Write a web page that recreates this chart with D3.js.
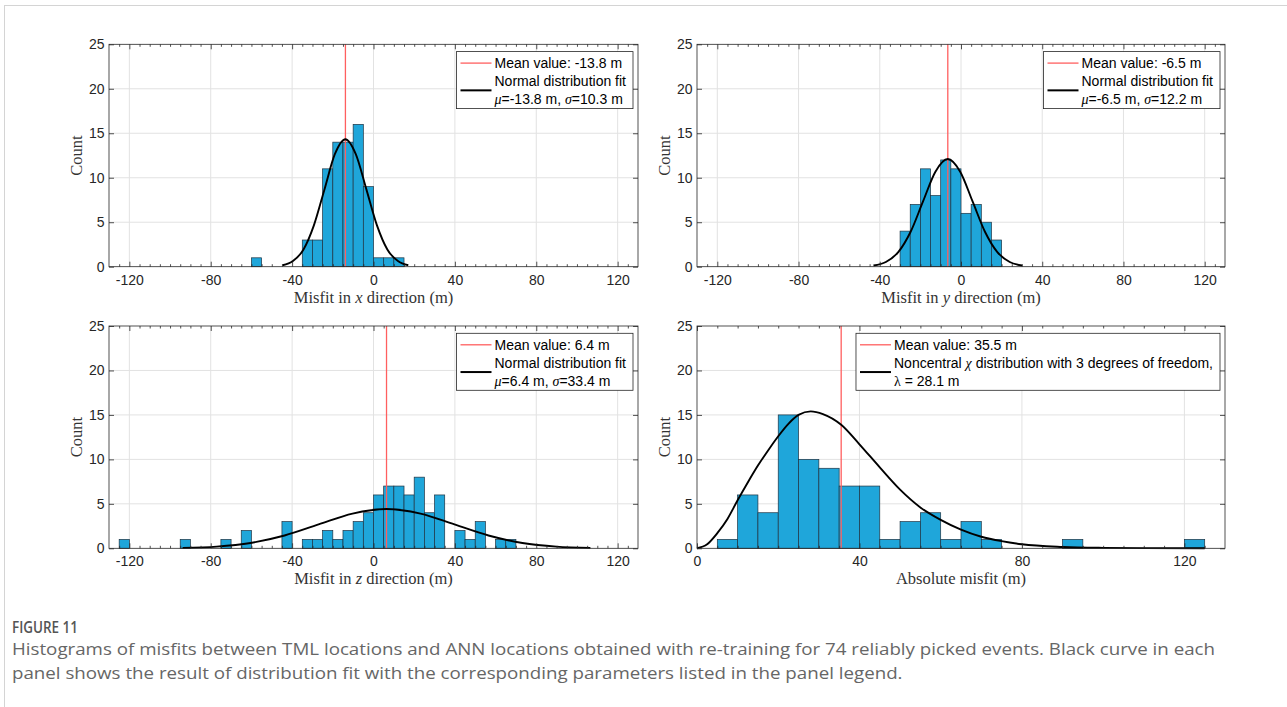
<!DOCTYPE html>
<html>
<head>
<meta charset="utf-8">
<script src="https://cdn.jsdelivr.net/npm/d3@7"></script>
<style>
  body { margin: 0; background: #fff; }
  svg { display: block; }
</style>
</head>
<body>
<svg id="fig" width="1287" height="707"></svg>
<script>
// histogram data: left edge of each non-empty 5 m bin and its count
const binWidth = 5;
const xBinLeft = [-60, -35, -30, -25, -20, -15, -10, -5, 0, 5, 10];
const xCounts = [1, 3, 3, 11, 14, 14, 16, 9, 1, 1, 1];
const yBinLeft = [-30, -25, -20, -15, -10, -5, 0, 5, 10, 15];
const yCounts = [4, 7, 11, 8, 12, 11, 6, 7, 5, 3];
const zBinLeft = [-125, -95, -75, -65, -45, -35, -30, -25, -20, -15, -10, -5, 0, 5, 10, 15, 20, 25, 30, 40, 45, 50, 60, 65];
const zCounts = [1, 1, 1, 2, 3, 1, 1, 2, 1, 2, 3, 4, 6, 7, 7, 6, 8, 4, 6, 2, 1, 3, 1, 1];
const absBinLeft = [5, 10, 15, 20, 25, 30, 35, 40, 45, 50, 55, 60, 65, 70, 90, 120];
const absCounts = [1, 6, 4, 15, 10, 9, 7, 7, 1, 3, 4, 1, 3, 1, 1, 1];

// fitted curves (count scale)
const xFitX = [-44.7, -39.6, -34.4, -29.3, -24.1, -19.0, -13.8, -8.7, -3.5, 1.7, 6.8, 12.0, 17.1];
const xFitY = [0.16, 0.63, 1.94, 4.65, 8.69, 12.65, 14.33, 12.65, 8.69, 4.65, 1.94, 0.63, 0.16];
const yFitX = [-43.1, -37.0, -30.9, -24.8, -18.7, -12.6, -6.5, -0.4, 5.7, 11.8, 17.9, 24.0, 30.1];
const yFitY = [0.13, 0.53, 1.64, 3.93, 7.34, 10.68, 12.10, 10.68, 7.34, 3.93, 1.64, 0.53, 0.13];
const zFitX = [-93.8, -77.1, -60.4, -43.7, -27.0, -10.3, 6.4, 23.1, 39.8, 56.5, 73.2, 89.9, 106.6];
const zFitY = [0.05, 0.19, 0.60, 1.44, 2.68, 3.90, 4.42, 3.90, 2.68, 1.44, 0.60, 0.19, 0.05];
const absFitX = [0, 2.5, 5, 7.5, 10, 12.5, 15, 17.5, 20, 22.5, 25, 28, 31, 35.5, 40, 45, 50, 55, 60, 65, 70, 75, 80, 90, 100, 110, 125];
const absFitY = [0, 0.45, 1.7, 3.3, 5.4, 7.4, 9.3, 11.0, 12.6, 14.0, 15.0, 15.4, 15.1, 13.9, 11.7, 9.1, 6.6, 4.6, 3.2, 2.1, 1.3, 0.8, 0.45, 0.15, 0.05, 0.02, 0];

const meanValues = [-13.8, -6.5, 6.4, 35.5];

const misfitTicks = [-120, -80, -40, 0, 40, 80, 120];
const absTicks = [0, 40, 80, 120];
const countTicks = [0, 5, 10, 15, 20, 25];

const captionTitle = "FIGURE 11";
const captionLines = [
  "Histograms of misfits between TML locations and ANN locations obtained with re-training for 74 reliably picked events. Black curve in each",
  "panel shows the result of distribution fit with the corresponding parameters listed in the panel legend.",
];

const sans = "'Liberation Sans', Arial, Helvetica, sans-serif";
const serif = "'Liberation Serif', 'Times New Roman', serif";
const barFill = "#1fa6da";
const axisColor = "#262626";
const meanColor = "#ff5f5f";

const svg = d3.select("#fig");

// page frame
svg.append("line").attr("x1", 4.5).attr("x2", 4.5).attr("y1", 5).attr("y2", 707).attr("stroke", "#d4d4d4");
svg.append("line").attr("x1", 4).attr("x2", 1287).attr("y1", 5.5).attr("y2", 5.5).attr("stroke", "#d4d4d4");

const panels = [
  {
    box: [109, 44.3, 638, 266.7], domain: [-130, 130], ticks: misfitTicks,
    bins: xBinLeft, counts: xCounts, fitX: xFitX, fitY: xFitY, mean: meanValues[0],
    xlabel: [["Misfit in "], ["x", "i"], [" direction (m)"]],
    legend: [[["Mean value: -13.8 m"]], [["Normal distribution fit"]], [["μ", "i"], ["=-13.8 m, "], ["σ", "i"], ["=10.3 m"]]],
  },
  {
    box: [697, 44.3, 1225, 266.7], domain: [-130, 130], ticks: misfitTicks,
    bins: yBinLeft, counts: yCounts, fitX: yFitX, fitY: yFitY, mean: meanValues[1],
    xlabel: [["Misfit in "], ["y", "i"], [" direction (m)"]],
    legend: [[["Mean value: -6.5 m"]], [["Normal distribution fit"]], [["μ", "i"], ["=-6.5 m, "], ["σ", "i"], ["=12.2 m"]]],
  },
  {
    box: [109, 326, 638, 548.3], domain: [-130, 130], ticks: misfitTicks,
    bins: zBinLeft, counts: zCounts, fitX: zFitX, fitY: zFitY, mean: meanValues[2],
    xlabel: [["Misfit in "], ["z", "i"], [" direction (m)"]],
    legend: [[["Mean value: 6.4 m"]], [["Normal distribution fit"]], [["μ", "i"], ["=6.4 m, "], ["σ", "i"], ["=33.4 m"]]],
  },
  {
    box: [697, 326, 1225, 548.3], domain: [0, 130], ticks: absTicks,
    bins: absBinLeft, counts: absCounts, fitX: absFitX, fitY: absFitY, mean: meanValues[3],
    xlabel: [["Absolute misfit (m)"]],
    legend: [[["Mean value: 35.5 m"]], [["Noncentral "], ["χ", "i"], [" distribution with 3 degrees of freedom,"]], [["λ", "s"], [" = 28.1 m"]]],
  },
];

function addRich(textSel, parts) {
  parts.forEach(([str, style]) => {
    const span = textSel.append("tspan").text(str);
    if (style === "i") span.attr("font-family", serif).attr("font-style", "italic");
    if (style === "s") span.attr("font-family", serif);
  });
}

function drawPanel(p) {
  const [l, t, r, b] = p.box;
  const x = d3.scaleLinear().domain(p.domain).range([l, r]);
  const y = d3.scaleLinear().domain([0, 25]).range([b, t]);
  const g = svg.append("g");

  // grid
  g.append("g").selectAll("line")
    .data(p.ticks.filter((v) => v > p.domain[0] && v < p.domain[1]))
    .join("line")
    .attr("x1", (v) => x(v)).attr("x2", (v) => x(v))
    .attr("y1", t).attr("y2", b)
    .attr("stroke", "#e2e2e2").attr("stroke-width", 1);
  g.append("g").selectAll("line")
    .data(countTicks.slice(1, -1))
    .join("line")
    .attr("x1", l).attr("x2", r)
    .attr("y1", (v) => y(v)).attr("y2", (v) => y(v))
    .attr("stroke", "#e2e2e2").attr("stroke-width", 1);

  // bars
  g.append("g").selectAll("rect")
    .data(p.bins.map((v, i) => ({ left: v, count: p.counts[i] })))
    .join("rect")
    .attr("x", (d) => x(d.left))
    .attr("width", (d) => x(d.left + binWidth) - x(d.left))
    .attr("y", (d) => y(d.count))
    .attr("height", (d) => y(0) - y(d.count))
    .attr("fill", barFill)
    .attr("stroke", "#1f3342")
    .attr("stroke-width", 0.7);

  // mean line
  g.append("line")
    .attr("x1", x(p.mean)).attr("x2", x(p.mean))
    .attr("y1", t).attr("y2", b)
    .attr("stroke", meanColor).attr("stroke-width", 1.3);

  // fit curve
  const line = d3.line().x((d) => x(d[0])).y((d) => y(d[1])).curve(d3.curveMonotoneX);
  g.append("path")
    .attr("d", line(p.fitX.map((v, i) => [v, p.fitY[i]])))
    .attr("fill", "none").attr("stroke", "#000").attr("stroke-width", 1.9);

  // axes (ticks inward, box on)
  const minor = d3.range(p.domain[0] + 5, p.domain[1], 5).filter((v) => !p.ticks.includes(v));
  const styleAxis = (sel) => {
    sel.select(".domain").remove();
    sel.selectAll("line").attr("stroke", axisColor).attr("stroke-width", 0.8);
    sel.selectAll("text").attr("fill", axisColor).attr("font-family", sans).attr("font-size", 14);
  };
  g.append("g").attr("transform", `translate(0,${b})`)
    .call(d3.axisBottom(x).tickValues(p.ticks).tickSize(-5).tickPadding(8).tickFormat((v) => String(v)))
    .call(styleAxis);
  g.append("g").attr("transform", `translate(0,${b})`)
    .call(d3.axisBottom(x).tickValues(minor).tickSize(-2.5).tickFormat(""))
    .call(styleAxis);
  g.append("g").attr("transform", `translate(0,${t})`)
    .call(d3.axisTop(x).tickValues(p.ticks).tickSize(-5).tickFormat(""))
    .call(styleAxis);
  g.append("g").attr("transform", `translate(0,${t})`)
    .call(d3.axisTop(x).tickValues(minor).tickSize(-2.5).tickFormat(""))
    .call(styleAxis);
  g.append("g").attr("transform", `translate(${l},0)`)
    .call(d3.axisLeft(y).tickValues(countTicks).tickSize(-5).tickPadding(4.5))
    .call(styleAxis);
  g.append("g").attr("transform", `translate(${r},0)`)
    .call(d3.axisRight(y).tickValues(countTicks).tickSize(-5).tickFormat(""))
    .call(styleAxis);
  g.append("rect")
    .attr("x", l).attr("y", t).attr("width", r - l).attr("height", b - t)
    .attr("fill", "none").attr("stroke", axisColor).attr("stroke-width", 0.8);

  // axis labels
  const xl = g.append("text")
    .attr("x", (l + r) / 2).attr("y", b + 36)
    .attr("text-anchor", "middle")
    .attr("font-family", serif).attr("font-size", 16.5).attr("fill", "#333");
  addRich(xl, p.xlabel);
  g.append("text")
    .attr("transform", `translate(${l - 27},${(t + b) / 2}) rotate(-90)`)
    .attr("text-anchor", "middle")
    .attr("font-family", serif).attr("font-size", 16.5).attr("fill", "#333")
    .text("Count");

  // legend
  const lg = g.append("g");
  const boxRect = lg.append("rect").attr("fill", "#fff").attr("stroke", axisColor).attr("stroke-width", 0.8);
  const rowY = [11.5, 30, 47.5];
  const texts = p.legend.map((parts, i) => {
    const tx = lg.append("text")
      .attr("y", rowY[i]).attr("dy", "0.35em")
      .attr("font-family", sans).attr("font-size", 14).attr("fill", "#000");
    addRich(tx, parts);
    return tx;
  });
  const maxW = d3.max(texts, (tx) => tx.node().getComputedTextLength());
  const lw = 38 + maxW + 7;
  const lx = r - 5 - lw;
  const ly = t + 7.3;
  lg.attr("transform", `translate(${lx},${ly})`);
  boxRect.attr("x", 0).attr("y", 0).attr("width", lw).attr("height", 57);
  texts.forEach((tx) => tx.attr("x", 38));
  lg.append("line").attr("x1", 4).attr("x2", 35).attr("y1", rowY[0]).attr("y2", rowY[0])
    .attr("stroke", meanColor).attr("stroke-width", 1.3);
  const my = (rowY[1] + rowY[2]) / 2;
  lg.append("line").attr("x1", 4).attr("x2", 35).attr("y1", my).attr("y2", my)
    .attr("stroke", "#000").attr("stroke-width", 2);
}

panels.forEach(drawPanel);

// caption (condensed face imitated by squeezing to the reference widths)
const capFont = "'Open Sans', 'Noto Sans', sans-serif";
svg.append("text")
  .attr("x", 12).attr("y", 633)
  .attr("font-family", capFont).attr("font-size", 16.5).attr("font-weight", 600)
  .attr("fill", "#555")
  .attr("textLength", 66).attr("lengthAdjust", "spacingAndGlyphs")
  .text(captionTitle);

const first = svg.append("text")
  .attr("x", 12).attr("y", 655)
  .attr("font-family", capFont).attr("font-size", 16.5).attr("fill", "#666")
  .text(captionLines[0]);
const naturalW = first.node().getComputedTextLength();
const squeeze = 1203 / naturalW;
first.attr("textLength", 1203).attr("lengthAdjust", "spacingAndGlyphs");
const second = svg.append("text")
  .attr("x", 12).attr("y", 679)
  .attr("font-family", capFont).attr("font-size", 16.5).attr("fill", "#666")
  .text(captionLines[1]);
second.attr("textLength", second.node().getComputedTextLength() * squeeze).attr("lengthAdjust", "spacingAndGlyphs");
</script>
</body>
</html>
